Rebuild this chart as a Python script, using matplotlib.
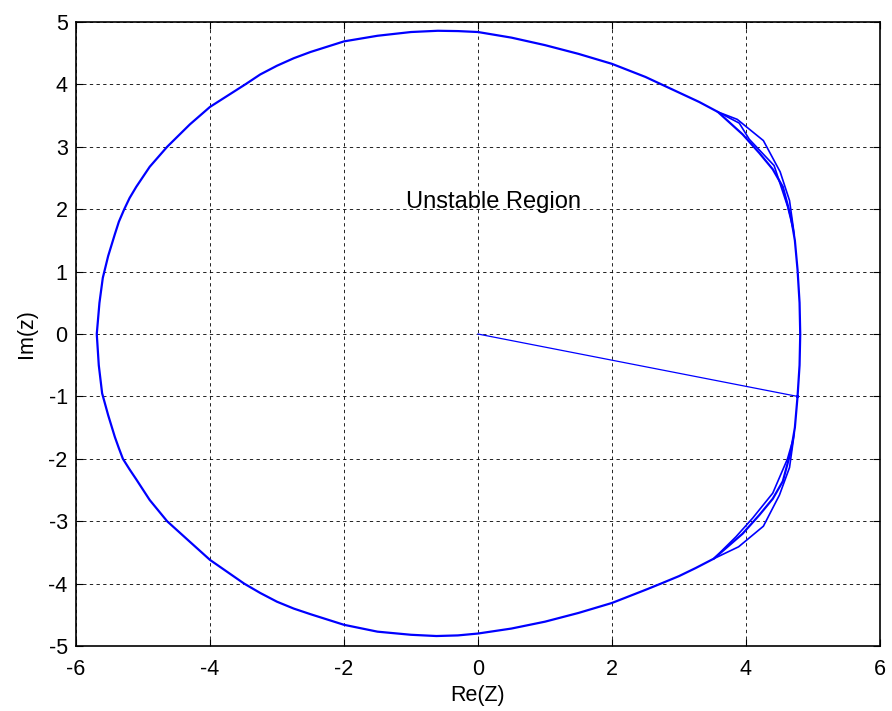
import numpy as np
import matplotlib
matplotlib.use('Agg')
import matplotlib.pyplot as plt

# boundary locus (counter-clockwise from the right side)
loop_x = [4.77, 4.80, 4.81, 4.80, 4.77, 4.73, 4.67, 4.55, 4.40, 4.20, 3.95, 3.58,
          3.30, 3.00, 2.70, 2.50, 2.00, 1.50, 1.00, 0.50, 0.00, -0.30,
          -0.60, -1.00, -1.50, -2.00, -2.50, -2.75, -3.00, -3.25, -3.46, -4.00,
          -4.30, -4.64, -4.90, -5.10, -5.20, -5.28, -5.36, -5.42, -5.52, -5.60,
          -5.65, -5.69, -5.66, -5.61, -5.52, -5.42, -5.36, -5.30,
          -5.20, -5.10, -4.90, -4.64, -4.30, -4.00, -3.49, -3.25, -3.00, -2.75, -2.50,
          -2.00, -1.50, -1.00, -0.62, -0.30, 0.00, 0.50, 1.00, 1.50, 2.00, 2.50,
          2.73, 3.00, 3.25, 3.52, 3.95, 4.20, 4.40, 4.55, 4.67, 4.73, 4.77]
loop_y = [-1.00, -0.50, 0.00, 0.50, 1.03, 1.50, 1.88, 2.36, 2.64, 2.90, 3.20, 3.56,
          3.72, 3.87, 4.02, 4.12, 4.33, 4.49, 4.63, 4.75, 4.84, 4.855,
          4.86, 4.84, 4.78, 4.69, 4.52, 4.42, 4.30, 4.16, 4.01, 3.64,
          3.36, 3.00, 2.68, 2.36, 2.18, 2.00, 1.80, 1.60, 1.25, 0.90,
          0.50, 0.00, -0.50, -0.95, -1.30, -1.65, -1.83, -2.00,
          -2.17, -2.33, -2.66, -3.00, -3.33, -3.62, -4.00, -4.15, -4.29, -4.40, -4.49,
          -4.66, -4.77, -4.82, -4.84, -4.83, -4.80, -4.72, -4.61, -4.47, -4.31, -4.10,
          -4.00, -3.88, -3.75, -3.60, -3.20, -2.90, -2.64, -2.36, -1.88, -1.50, -1.00]

# extra laps that zigzag near the top-right and bottom-right corners
zig_up1_x = [3.58, 3.87, 4.26, 4.51, 4.65, 4.72]
zig_up1_y = [3.56, 3.44, 3.10, 2.60, 2.14, 1.60]
zig_up2_x = [3.58, 3.90, 4.05, 4.42, 4.62, 4.70]
zig_up2_y = [3.56, 3.38, 3.12, 2.70, 2.05, 1.70]

zig_lo1_x = [3.52, 3.89, 4.26, 4.50, 4.65, 4.72]
zig_lo1_y = [-3.60, -3.41, -3.08, -2.58, -2.14, -1.60]
zig_lo2_x = [3.52, 3.85, 4.10, 4.40, 4.62, 4.70]
zig_lo2_y = [-3.60, -3.25, -2.95, -2.55, -2.00, -1.70]

# straight segment from the origin
seg_x = [0.0, 4.77]
seg_y = [0.0, -1.00]

plt.rcParams['font.family'] = ['Liberation Sans', 'DejaVu Sans']
plt.rcParams['axes.unicode_minus'] = False

fig = plt.figure(figsize=(8.92, 7.11), dpi=100)
ax = fig.add_axes([0.0852, 0.0914, 0.9013, 0.8776])

blue = '#0000ff'
ax.plot(seg_x, seg_y, color=blue, lw=0.9)
ax.plot(loop_x, loop_y, color=blue, lw=1.6)
ax.plot(zig_up1_x, zig_up1_y, color=blue, lw=1.2)
ax.plot(zig_up2_x, zig_up2_y, color=blue, lw=1.2)
ax.plot(zig_lo1_x, zig_lo1_y, color=blue, lw=1.2)
ax.plot(zig_lo2_x, zig_lo2_y, color=blue, lw=1.2)

ax.text(-1.07, 2.02, 'Unstable Region', fontsize=17, ha='left', va='baseline')

ax.set_xlim(-6, 6)
ax.set_ylim(-5, 5)
ax.set_xticks(np.arange(-6, 7, 2))
ax.set_yticks(np.arange(-5, 6, 1))
ax.grid(True, color='k', linestyle=(0, (4, 4)), linewidth=0.6)
ax.tick_params(direction='in', length=5, width=0.8, labelsize=15.5,
               top=True, right=True)
ax.tick_params(axis='x', pad=9)
ax.tick_params(axis='y', pad=6)
for s in ax.spines.values():
    s.set_linewidth(1.2)

ax.set_xlabel('Re(Z)', fontsize=15.5, labelpad=4)
ax.set_ylabel('Im(z)', fontsize=15.5, labelpad=8)

fig.savefig('out.png', dpi=100)
